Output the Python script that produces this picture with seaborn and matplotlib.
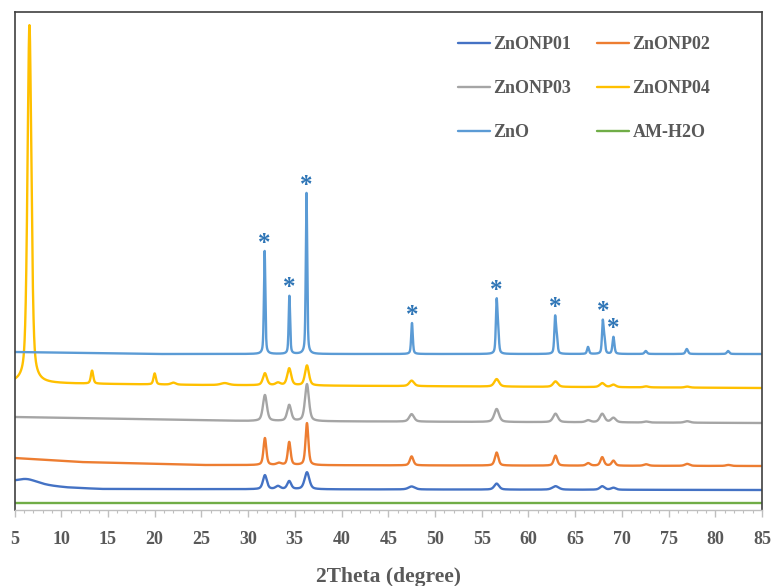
import numpy as np
import pandas as pd
import matplotlib
matplotlib.use("Agg")
import matplotlib.pyplot as plt
import seaborn as sns

# ---------- data (offset intensities, a.u.) ----------
two_theta_ticks = list(range(5, 90, 5))

series_names = ["ZnONP01", "ZnONP02", "ZnONP03", "ZnONP04", "ZnO", "AM-H2O"]

# baseline knots: (2theta, level)
base_np01 = [(5, 27), (8.8, 24), (10.6, 22.5), (14.2, 21), (85, 20)]
base_np02 = [(5, 52), (12, 48), (25, 45), (85, 44)]
base_np03 = [(5, 93), (30, 89), (85, 87)]
base_np04 = [(5, 127), (25, 125), (85, 122)]
base_zno = [(5, 158), (20, 156), (85, 156)]
base_amh2o = [(5, 7), (85, 7)]

# peaks: (2theta, height above baseline, half width)
peaks_np01 = [(6.3, 5, 1.4), (31.8, 14, 0.25), (33.2, 3, 0.3), (34.4, 8, 0.25),
              (36.3, 17, 0.3), (47.5, 3, 0.4), (56.6, 6, 0.3), (62.9, 3.5, 0.4),
              (67.9, 3.5, 0.3), (69.1, 2, 0.3)]
peaks_np02 = [(31.8, 27, 0.18), (33.3, 2, 0.3), (34.4, 23, 0.18), (36.3, 42, 0.18),
              (47.5, 9, 0.22), (56.6, 13, 0.22), (62.9, 10, 0.22), (66.4, 2.5, 0.25),
              (67.9, 8.5, 0.22), (69.1, 5, 0.22), (72.6, 1.5, 0.3), (77.0, 2, 0.3),
              (81.4, 1, 0.3)]
peaks_np03 = [(31.8, 26, 0.25), (34.4, 16, 0.25), (36.3, 37, 0.25), (47.5, 7.5, 0.3),
              (56.6, 13, 0.3), (62.9, 8.5, 0.3), (66.4, 2, 0.3), (67.9, 8.5, 0.3),
              (69.1, 4.5, 0.3), (72.6, 1, 0.3), (77.0, 1.5, 0.35)]
peaks_np04 = [(6.6, 358, 0.25), (13.3, 13, 0.15), (20.0, 11, 0.15), (22.0, 2, 0.3),
              (27.5, 2, 0.5), (31.8, 12, 0.25), (33.2, 2.5, 0.3), (34.4, 17, 0.25),
              (36.3, 20, 0.25), (47.5, 5.5, 0.3), (56.6, 7.5, 0.3), (62.9, 5.5, 0.3),
              (67.9, 4, 0.3), (69.1, 2.5, 0.3), (72.6, 1, 0.3), (77.0, 1, 0.3)]
peaks_zno = [(31.77, 103, 0.09), (34.42, 58, 0.09), (36.25, 161, 0.09),
             (47.54, 31, 0.1), (56.6, 51, 0.1), (56.76, 20, 0.1), (62.86, 36, 0.1),
             (63.04, 15, 0.1), (66.38, 7, 0.12), (67.96, 32, 0.1), (68.14, 13, 0.1),
             (69.1, 17, 0.12), (72.56, 3, 0.15), (76.95, 5, 0.15), (81.37, 3, 0.15)]
peaks_amh2o = []

# ZnO reflections marked with an asterisk
star_positions = [31.77, 34.42, 36.25, 47.54, 56.6, 62.86, 67.96, 69.1]

baselines = [base_np01, base_np02, base_np03, base_np04, base_zno, base_amh2o]
peak_sets = [peaks_np01, peaks_np02, peaks_np03, peaks_np04, peaks_zno, peaks_amh2o]

colors = {"ZnONP01": "#4472C4", "ZnONP02": "#ED7D31", "ZnONP03": "#A5A5A5",
          "ZnONP04": "#FFC000", "ZnO": "#5B9BD5", "AM-H2O": "#70AD47"}


def pattern(x, knots, peaks, eta=0.5):
    kx, ky = zip(*knots)
    y = np.interp(x, kx, ky)
    for pos, h, w in peaks:
        d = ((x - pos) / w) ** 2
        y = y + h * (eta / (1 + d) + (1 - eta) * np.exp(-np.log(2) * d))
    return y


x = np.linspace(5, 85, 8001)
frames = []
for name, knots, peaks in zip(series_names, baselines, peak_sets):
    frames.append(pd.DataFrame({"2theta": x, "I": pattern(x, knots, peaks), "sample": name}))
df = pd.concat(frames, ignore_index=True)

# ---------- plot ----------
sns.set_theme(style="white")
plt.rcParams["font.family"] = ["Liberation Serif", "DejaVu Serif"]
plt.rcParams["font.weight"] = "bold"
grey = "#595959"

fig = plt.figure(figsize=(7.74, 5.86), dpi=100)
ax = fig.add_axes([14.5 / 774, 1 - 510 / 586, (762 - 14.5) / 774, (510 - 12) / 586])

for name in series_names:
    sns.lineplot(data=df[df["sample"] == name], x="2theta", y="I", color=colors[name],
                 linewidth=1.7, label=name, estimator=None, ax=ax)

zno_y = pattern(np.array(star_positions), base_zno, peaks_zno)
for pos, top in zip(star_positions, zno_y):
    ax.annotate("*", xy=(pos, top), xytext=(0, 1), textcoords="offset points",
                ha="center", va="baseline", color="#2E75B6", fontsize=18, fontweight="bold")

ax.set_xlim(5, 85)
ax.set_ylim(0, 498)
ax.set_xticks(two_theta_ticks)
ax.set_xticks(np.arange(5, 86, 1), minor=True)
ax.set_yticks([])
ax.set_ylabel("")
ax.set_xlabel("2Theta (degree)", fontsize=15.5, fontweight="bold", color=grey, labelpad=14)
ax.tick_params(axis="x", which="major", direction="out", length=5, width=1, color="#BFBFBF",
               labelsize=13, labelcolor=grey, pad=10, bottom=True)
ax.tick_params(axis="x", which="minor", direction="out", length=2.5, width=0.8,
               color="#BFBFBF", bottom=True)
for lab in ax.get_xticklabels():
    lab.set_fontweight("bold")

for side in ["left", "top", "right"]:
    ax.spines[side].set_color("#404040")
    ax.spines[side].set_linewidth(1.2)
ax.spines["bottom"].set_color("#BFBFBF")
ax.spines["bottom"].set_linewidth(1)

handles, labels = ax.get_legend_handles_labels()
order = [0, 2, 4, 1, 3, 5]
leg = ax.legend([handles[i] for i in order], [labels[i] for i in order], ncol=2,
                loc="upper left", bbox_to_anchor=(458 / 774, 1 - 36 / 586),
                bbox_transform=fig.transFigure, frameon=False, borderpad=0,
                borderaxespad=0, handlelength=1.75, handletextpad=0.2,
                columnspacing=1.45, labelspacing=1.5,
                prop={"family": "Liberation Serif", "weight": "bold", "size": 13})
for t in leg.get_texts():
    t.set_color(grey)

fig.savefig("out.png", dpi=100)
